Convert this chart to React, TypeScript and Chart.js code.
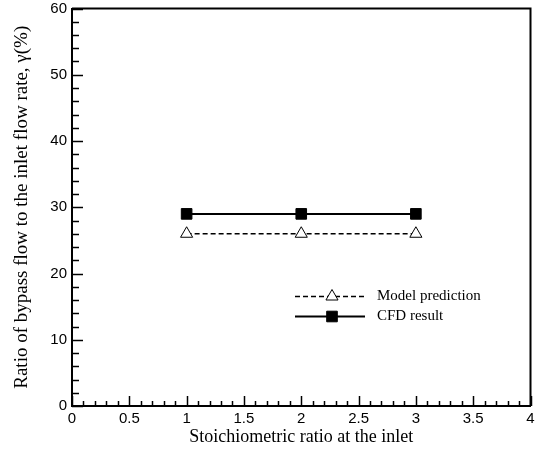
import React, { useEffect, useRef } from "react";
import { Chart, registerables } from "chart.js";

Chart.register(...registerables);

const ratios = [1, 2, 3];
const modelPrediction = [26, 26, 26];
const cfdResult = [29, 29, 29];
const legendLabels = ["Model prediction", "CFD result"];
const xTitle = "Stoichiometric ratio at the inlet";
const yTitle = "Ratio of bypass flow to the inlet flow rate, \u03b3(%)";

function drawMarker(ctx: CanvasRenderingContext2D, style: string, r: number, x: number, y: number) {
  ctx.beginPath();
  if (style === "triangle") {
    for (let k = 0; k < 3; k++) {
      const a = (k * 2 * Math.PI) / 3;
      const px = x + Math.sin(a) * r;
      const py = y - Math.cos(a) * r;
      if (k === 0) ctx.moveTo(px, py);
      else ctx.lineTo(px, py);
    }
    ctx.closePath();
  } else {
    const s = Math.SQRT1_2 * r;
    ctx.rect(x - s, y - s, 2 * s, 2 * s);
  }
  ctx.fill();
  ctx.stroke();
}

const frameAndTicks = {
  id: "frameAndTicks",
  afterDatasetsDraw(chart: any) {
    const { ctx, chartArea, scales } = chart;
    const xs = scales.x;
    const ys = scales.y;
    ctx.save();
    ctx.strokeStyle = "#000";
    ctx.lineWidth = 1.5;
    for (let i = 0; i <= 40; i++) {
      const v = i / 10;
      const px = Math.round(xs.getPixelForValue(v)) + 0.5;
      const len = i % 5 === 0 ? 10 : 5;
      ctx.beginPath();
      ctx.moveTo(px, chartArea.bottom);
      ctx.lineTo(px, chartArea.bottom - len);
      ctx.stroke();
    }
    for (let i = 0; i <= 30; i++) {
      const v = i * 2;
      const py = Math.round(ys.getPixelForValue(v)) + 0.5;
      const len = v % 10 === 0 ? 11 : 7;
      ctx.beginPath();
      ctx.moveTo(chartArea.left, py);
      ctx.lineTo(chartArea.left + len, py);
      ctx.stroke();
    }
    ctx.lineWidth = 2;
    ctx.beginPath();
    ctx.moveTo(chartArea.left, chartArea.top);
    ctx.lineTo(chartArea.right, chartArea.top);
    ctx.lineTo(chartArea.right, chartArea.bottom);
    ctx.stroke();

    const items = chart.data.datasets;
    const lx0 = chartArea.left + 223;
    const lx1 = chartArea.left + 293;
    const mx = chartArea.left + 260;
    const tx = chartArea.left + 305;
    const y0 = chartArea.top + 288;
    ctx.font = "15px 'Liberation Serif', 'Times New Roman', serif";
    ctx.textBaseline = "middle";
    ctx.fillStyle = "#000";
    items.forEach((ds: any, i: number) => {
      const y = y0 + i * 20;
      ctx.save();
      ctx.lineWidth = ds.borderWidth;
      ctx.setLineDash(ds.borderDash || []);
      ctx.strokeStyle = ds.borderColor;
      ctx.beginPath();
      ctx.moveTo(lx0, y);
      ctx.lineTo(lx1, y);
      ctx.stroke();
      ctx.restore();
      ctx.save();
      ctx.setLineDash([]);
      ctx.fillStyle = ds.pointBackgroundColor;
      ctx.strokeStyle = ds.pointBorderColor;
      ctx.lineWidth = ds.pointBorderWidth;
      drawMarker(ctx, ds.pointStyle, ds.pointRadius, mx, y);
      ctx.restore();
      ctx.fillText(legendLabels[i], tx, y);
    });
    ctx.restore();
  },
};

export default function App() {
  const ref = useRef<HTMLCanvasElement>(null);
  useEffect(() => {
    if (!ref.current) return;
    const chart = new Chart(ref.current, {
      type: "line",
      data: {
        datasets: [
          {
            label: legendLabels[0],
            data: ratios.map((x, i) => ({ x, y: modelPrediction[i] })),
            borderColor: "#000",
            borderWidth: 1.6,
            borderDash: [5, 3],
            pointStyle: "triangle",
            pointRadius: 7,
            pointBackgroundColor: "#fff",
            pointBorderColor: "#000",
            pointBorderWidth: 1,
            fill: false,
          } as any,
          {
            label: legendLabels[1],
            data: ratios.map((x, i) => ({ x, y: cfdResult[i] })),
            borderColor: "#000",
            borderWidth: 2,
            pointStyle: "rect",
            pointRadius: 7.5,
            pointBackgroundColor: "#000",
            pointBorderColor: "#000",
            pointBorderWidth: 1,
            fill: false,
          } as any,
        ],
      },
      options: {
        animation: false,
        responsive: false,
        devicePixelRatio: 1,
        layout: { padding: { top: 7, right: 7, left: 0, bottom: 0 } },
        plugins: { legend: { display: false }, tooltip: { enabled: false } },
        scales: {
          x: {
            type: "linear",
            min: 0,
            max: 4,
            ticks: {
              stepSize: 0.5,
              padding: 4,
              color: "#000",
              font: { family: "'Liberation Sans', Arial, sans-serif", size: 15 },
              callback: (v: any) => String(v),
              maxRotation: 0,
            },
            grid: { display: false, drawTicks: false },
            border: { display: true, color: "#000", width: 2 },
            title: {
              display: true,
              text: xTitle,
              color: "#000",
              font: { family: "'Liberation Serif', 'Times New Roman', serif", size: 18 },
              padding: { top: 0, bottom: 8 },
            },
            afterFit: (s: any) => {
              s.height = 50;
              s.paddingLeft = 0;
              s.paddingRight = 0;
            },
          },
          y: {
            type: "linear",
            min: 0,
            max: 60,
            ticks: {
              stepSize: 10,
              padding: 5,
              color: "#000",
              font: { family: "'Liberation Sans', Arial, sans-serif", size: 15 },
            },
            grid: { display: false, drawTicks: false },
            border: { display: true, color: "#000", width: 2 },
            title: {
              display: true,
              text: yTitle,
              color: "#000",
              font: { family: "'Liberation Serif', 'Times New Roman', serif", size: 19 },
              padding: { top: 11, bottom: 0 },
            },
            afterFit: (s: any) => {
              s.width = 72;
              s.paddingTop = 0;
              s.paddingBottom = 0;
            },
          },
        },
      },
      plugins: [frameAndTicks],
    });
    return () => chart.destroy();
  }, []);
  return (
    <div style={{ position: "fixed", left: 0, top: 0, width: 539, height: 456, background: "#fff" }}>
      <canvas ref={ref} width={539} height={456} />
    </div>
  );
}
